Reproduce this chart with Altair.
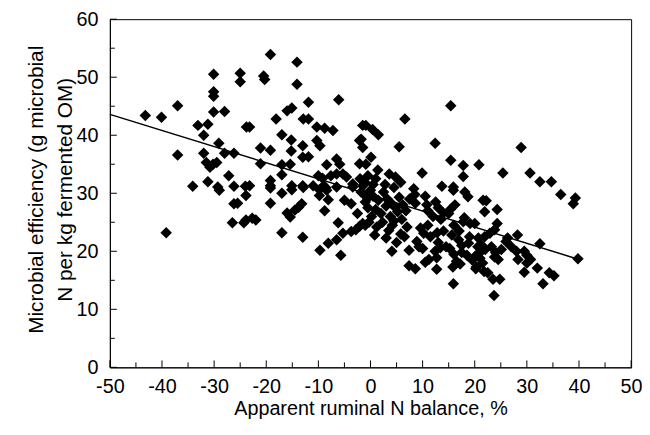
import altair as alt
import pandas as pd

# Axis settings
x_domain = [-50, 50]
y_domain = [0, 60]
x_ticks = [-50, -40, -30, -20, -10, 0, 10, 20, 30, 40, 50]
x_minor = [-45, -35, -25, -15, -5, 5, 15, 25, 35, 45]
y_ticks = [0, 10, 20, 30, 40, 50, 60]
y_minor = [5, 15, 25, 35, 45, 55]

# Regression line end points
fit_x = [-50, 40]
fit_y = [43.6, 18.6]

# Scatter points (N balance %, microbial efficiency)
points_left = [
    (-43.2, 43.4), (-40.1, 43.1), (-37.0, 45.1), (-37.0, 36.6), (-39.2, 23.2),
    (-30.1, 50.5), (-25.0, 50.7), (-25.0, 49.2), (-30.1, 47.5), (-30.1, 46.7),
    (-30.1, 44.0), (-28.0, 44.1), (-33.1, 41.7), (-31.2, 41.9), (-32.0, 40.0),
    (-29.1, 38.6), (-32.0, 36.9), (-28.0, 36.9), (-26.2, 36.9),
    (-31.5, 35.3), (-30.2, 35.0), (-30.8, 34.5), (-29.5, 35.3),
    (-27.2, 33.0), (-31.2, 32.0), (-34.1, 31.2), (-29.3, 31.1), (-26.2, 31.2),
    (-24.0, 31.2), (-23.8, 41.4), (-29.0, 30.5), (-23.9, 29.6), (-26.2, 28.2),
    (-26.5, 24.9), (-24.3, 24.9),
]

points_midleft = [
    (-19.2, 53.9), (-14.1, 52.6), (-20.5, 50.2), (-20.3, 49.6), (-14.1, 48.8),
    (-11.9, 45.7), (-6.1, 46.1), (-16.0, 44.2), (-15.1, 44.7), (-18.1, 42.8),
    (-12.9, 42.8), (-11.9, 42.8), (-23.2, 41.4), (-10.3, 41.4), (-8.8, 41.2),
    (-7.2, 40.8), (-1.5, 41.7), (-17.0, 40.1), (-15.2, 39.2), (-10.3, 39.1),
    (-9.7, 38.2), (-2.1, 39.1), (-21.1, 37.8), (-19.2, 37.4), (-15.2, 37.3),
    (-13.0, 38.2), (-13.0, 36.2), (-11.9, 36.3), (-1.5, 37.9), (-6.5, 35.9),
    (-5.9, 35.0), (-8.4, 34.9), (-21.1, 35.1), (-17.0, 34.9), (-15.4, 35.0),
    (-2.1, 35.1), (-10.0, 33.0), (-9.2, 32.6), (-7.6, 33.0), (-6.5, 33.3),
    (-5.3, 33.3), (-4.6, 32.8), (-17.0, 33.2), (-19.2, 32.2), (-19.2, 31.3),
    (-23.2, 31.3), (-15.1, 31.3), (-13.0, 31.3), (-11.0, 31.3), (-9.0, 31.3),
    (-3.4, 31.6), (-1.5, 31.3), (-19.2, 30.9), (-25.5, 28.3), (-19.2, 28.3),
    (-17.0, 30.0), (-15.1, 30.6), (-12.9, 31.0), (-9.8, 30.6), (-8.6, 31.0),
    (-9.8, 29.6), (-8.4, 30.5), (-6.5, 31.1), (-3.4, 31.1), (-1.8, 30.2),
    (-13.2, 28.2), (-13.8, 27.6), (-14.5, 27.1), (-16.0, 26.6), (-15.4, 25.9),
    (-8.8, 27.0), (-8.1, 28.9), (-5.0, 28.8), (-3.7, 28.2), (-6.2, 24.9),
    (-23.9, 25.4), (-22.7, 25.7), (-22.0, 25.4), (-17.0, 23.2), (-13.0, 22.4),
    (-9.7, 20.2), (-8.1, 21.4), (-6.5, 22.0), (-5.7, 19.3), (-5.3, 23.1),
    (-3.7, 23.4), (-2.1, 24.3), (-1.5, 24.8),
]

points_center = [
    (15.4, 45.1), (6.6, 42.8), (-0.9, 41.7), (0.4, 41.0), (1.5, 40.1),
    (-1.8, 39.3), (5.5, 38.0), (12.4, 38.6), (0.1, 36.2), (-0.9, 35.0),
    (1.4, 34.0), (15.4, 35.7), (17.8, 34.8), (17.8, 32.9), (20.8, 34.9),
    (9.9, 33.5), (3.6, 33.3), (4.8, 32.8), (5.8, 31.9), (-2.0, 32.5),
    (-0.5, 33.0), (0.5, 31.5), (1.0, 32.5), (-1.0, 31.8), (8.3, 30.8),
    (13.7, 31.2), (15.9, 31.1), (-1.5, 30.0), (-0.5, 29.2), (0.0, 30.5),
    (8.5, 29.8), (10.5, 29.5), (15.9, 30.5), (18.7, 29.4), (18.1, 30.2),
    (21.6, 28.8), (-2.8, 23.7), (-1.0, 24.5), (-0.3, 25.0),
    (0.5, 29.5), (1.5, 28.8), (2.5, 30.2), (3.2, 29.0), (4.0, 28.3),
    (4.8, 27.5), (5.5, 29.3), (6.2, 28.0), (1.0, 27.2), (2.0, 26.5),
    (3.0, 27.8), (3.8, 26.0), (4.5, 25.2), (5.2, 26.8), (6.0, 25.5),
    (2.3, 25.0), (1.2, 24.2), (3.5, 23.6), (4.2, 24.5), (5.8, 23.0),
    (0.2, 26.0), (-0.5, 27.5), (6.8, 27.0), (7.5, 29.0), (7.0, 24.2),
    (2.8, 31.5), (4.5, 31.0), (-1.0, 28.5), (-2.5, 26.5), (0.8, 22.8),
    (3.0, 22.3), (5.0, 21.5), (6.5, 22.5),
]

points_midright = [
    (8.6, 28.3), (10.8, 28.0), (13.0, 27.5), (14.0, 26.6), (15.3, 27.2),
    (16.2, 28.0), (17.8, 25.1), (19.1, 24.8), (15.6, 22.8), (16.9, 22.0),
    (18.8, 21.4), (20.6, 20.8), (9.6, 24.0), (10.2, 23.1), (8.9, 21.7),
    (9.3, 20.8), (7.4, 20.2), (4.1, 20.0), (12.4, 20.0), (13.4, 20.6),
    (12.7, 18.9), (10.5, 18.1), (11.2, 18.6), (7.4, 17.5), (8.6, 17.0),
    (12.7, 16.9), (15.9, 14.4), (15.2, 20.5), (16.0, 19.5), (16.5, 18.3),
    (17.2, 17.8), (15.8, 17.3), (17.5, 19.8), (19.5, 18.5), (20.3, 17.3),
    (21.5, 18.0), (21.8, 16.5), (11.0, 27.0), (12.0, 26.0), (12.5, 28.5),
    (13.5, 25.5), (14.0, 23.5), (15.0, 26.5), (16.0, 24.5), (17.0, 23.5),
    (18.0, 25.8), (19.0, 22.5), (11.5, 22.5), (13.0, 21.5), (14.5, 20.8),
    (17.5, 21.0), (18.5, 19.3), (10.0, 20.5), (11.0, 24.5), (12.8, 23.2),
]

points_right = [
    (28.9, 37.9), (25.4, 33.5), (30.6, 33.5), (32.5, 32.0), (34.7, 32.0),
    (36.5, 29.8), (39.3, 29.2), (38.9, 28.2), (22.2, 28.7), (21.9, 26.8),
    (24.3, 27.2), (24.3, 24.8), (20.0, 24.8), (22.9, 23.1), (23.8, 23.7),
    (21.9, 22.5), (20.7, 22.3), (21.3, 21.1), (26.3, 22.3), (28.2, 22.8),
    (26.0, 21.7), (32.5, 21.3), (23.2, 20.8), (24.0, 19.8), (24.5, 18.6),
    (25.1, 20.3), (23.8, 19.0), (27.0, 20.8), (28.0, 20.0), (28.3, 18.6),
    (29.5, 20.0), (30.0, 19.3), (30.7, 18.6), (30.0, 18.0), (29.5, 16.4),
    (32.0, 17.1), (34.3, 16.3), (35.2, 15.8), (33.1, 14.4), (39.8, 18.7),
    (20.5, 19.5), (21.0, 18.8), (20.2, 17.0), (22.5, 16.3), (23.5, 15.2),
    (24.8, 15.2), (23.7, 12.4), (20.0, 19.0), (21.0, 19.8), (22.0, 20.3),
]

all_points = points_left + points_midleft + points_center + points_midright + points_right
df = pd.DataFrame(all_points, columns=["x", "y"])
fit_df = pd.DataFrame({"x": fit_x, "y": fit_y})

W, H = 527, 352
FONT = "Liberation Sans"

xs = alt.Scale(domain=x_domain, nice=False, zero=False)
ys = alt.Scale(domain=y_domain, nice=False, zero=False)

x_axis = alt.Axis(
    values=x_ticks, title="Apparent ruminal N balance, %", ticks=False, grid=False,
    labelFontSize=20, titleFontSize=20, labelPadding=9, titlePadding=3,
    labelFont=FONT, titleFont=FONT, labelColor="black", titleColor="black",
    titleFontWeight="normal", domainColor="black", labelFlush=False,
    labelExpr="'' + datum.value",
)
y_axis = alt.Axis(
    values=y_ticks, title=["Microbial efficiency (g microbial", "N per kg fermented OM)"],
    ticks=False, grid=False, labelFontSize=20, titleFontSize=21, labelPadding=12,
    titleLineHeight=29, titleX=-74, titleY=172, titleAngle=270,
    titleAlign="center", titleBaseline="middle",
    labelFont=FONT, titleFont=FONT,
    labelColor="black", titleColor="black", titleFontWeight="normal",
    domainColor="black", labelFlush=False, labelExpr="'' + datum.value",
)

X = alt.X("x:Q", scale=xs, axis=x_axis)
Y = alt.Y("y:Q", scale=ys, axis=y_axis)

points = alt.Chart(df).mark_point(
    shape="diamond", filled=True, color="black", size=135, opacity=1
).encode(x=X, y=Y)

fit = alt.Chart(fit_df).mark_line(color="black", strokeWidth=1.5).encode(x=X, y=Y)

xt_major = alt.Chart(pd.DataFrame({"x": x_ticks})).mark_rule(color="black").encode(
    x=X, y=alt.value(H), y2=alt.value(H - 7))
xt_minor = alt.Chart(pd.DataFrame({"x": x_minor})).mark_rule(color="black").encode(
    x=X, y=alt.value(H), y2=alt.value(H - 5))
yt_major = alt.Chart(pd.DataFrame({"y": y_ticks})).mark_rule(color="black").encode(
    y=Y, x=alt.value(0), x2=alt.value(7))
yt_minor = alt.Chart(pd.DataFrame({"y": y_minor})).mark_rule(color="black").encode(
    y=Y, x=alt.value(0), x2=alt.value(5))

chart = alt.layer(xt_major, xt_minor, yt_major, yt_minor, fit, points).properties(
    width=W, height=H,
    autosize=alt.AutoSizeParams(type="none"),
    padding={"left": 103, "top": 9, "right": 11, "bottom": 58},
    background="white",
).configure_view(stroke="black", strokeWidth=1)

chart.save("out.html", embed_options={"renderer": "svg", "actions": False})
